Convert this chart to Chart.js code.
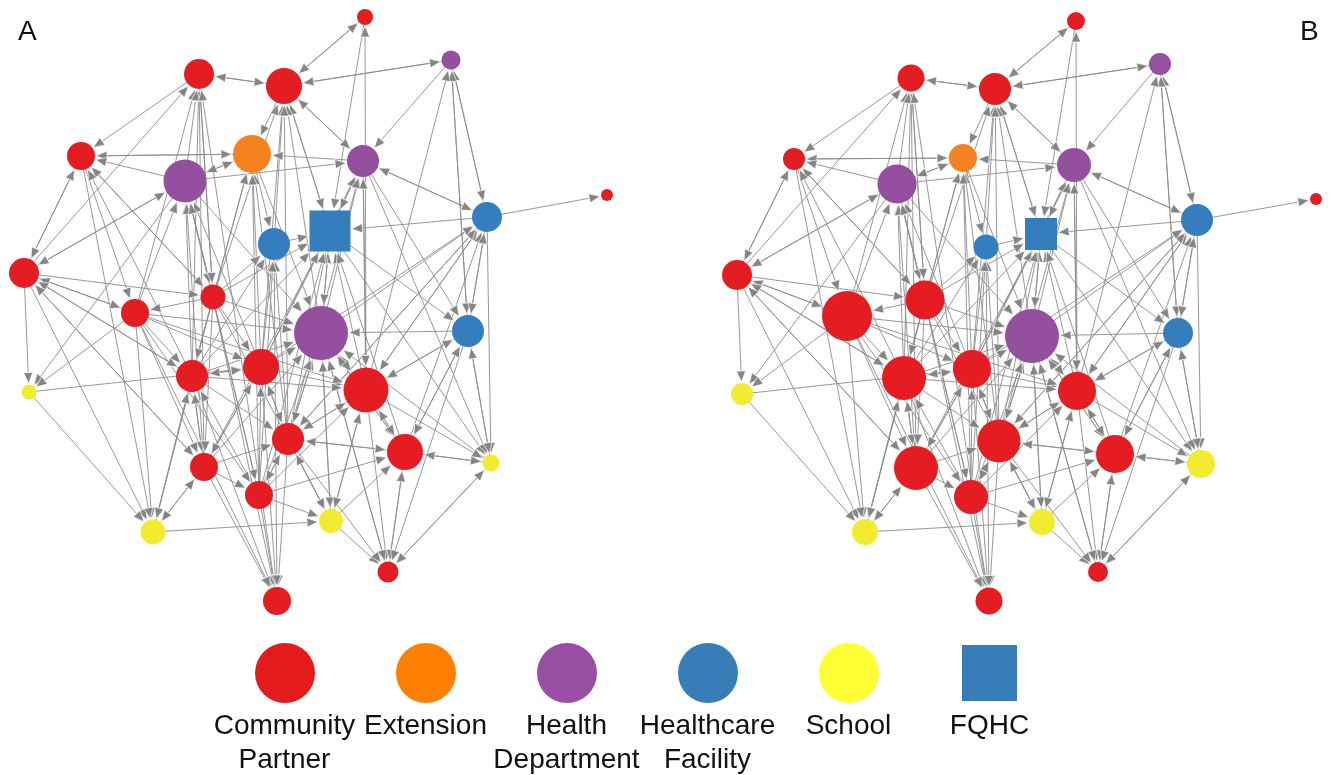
<!DOCTYPE html>
<html>
<head>
<meta charset="utf-8">
<script src="https://cdn.jsdelivr.net/npm/chart.js@4/dist/chart.umd.min.js"></script>
<style>
  html, body { margin: 0; padding: 0; background: #fff; }
  #wrap { position: relative; width: 1336px; height: 775px; overflow: hidden; font-family: "Liberation Sans", Arial, sans-serif; color: #111; }
  #net { position: absolute; left: 0; top: 0; }
  .panel-tag { position: absolute; top: 17px; font-size: 28px; line-height: 28px; }
  #legend { position: absolute; left: 214px; top: 643px; display: flex; }
  .item { width: 141px; display: flex; flex-direction: column; align-items: center; }
  .mark { width: 60px; height: 60px; border-radius: 50%; }
  .mark.sq { width: 55px; height: 56px; border-radius: 0; margin-top: 2px; margin-bottom: 2px; }
  .txt { margin-top: 5px; font-size: 28px; line-height: 34px; text-align: center; white-space: nowrap; }
</style>
</head>
<body>
<div id="wrap">
  <canvas id="net" width="1336" height="775"></canvas>
  <div class="panel-tag" style="left:18px">A</div>
  <div class="panel-tag" style="left:1300px">B</div>
  <div id="legend"></div>
</div>
<script>
// Organisation types
const categories = ['Community Partner', 'Extension', 'Health Department', 'Healthcare Facility', 'School', 'FQHC'];
const categoryLines = [['Community', 'Partner'], ['Extension'], ['Health', 'Department'], ['Healthcare', 'Facility'], ['School'], ['FQHC']];

// Type of each organisation (index into categories)
const nodeType = [0, 2, 0, 0, 1, 0, 2, 2, 0, 3, 5, 3, 0, 0, 0, 2, 3, 4, 0, 0, 0, 0, 0, 4, 0, 0, 4, 4, 0, 0];

// Network A: layout coordinates and node weight
const layoutAX = [365, 451, 199, 284, 252, 81, 363, 185, 607, 487, 330, 274, 24, 213, 135, 321, 468, 29, 192, 261, 366, 288, 405, 491, 204, 259, 153, 331, 388, 277];
const layoutAY = [17, 60, 74, 86, 154, 156, 161, 181, 195, 217, 231, 244, 273, 297, 313, 333, 331, 392, 376, 367, 390, 439, 452, 463, 467, 495, 532, 521, 572, 601];
const weightA = [8, 9.5, 15, 18, 19, 14, 16, 21.5, 6, 15, 20.5, 16, 15, 12.5, 14, 27, 16, 7.5, 16, 18, 22.5, 16, 18, 8.5, 14, 14, 12.5, 12, 10.5, 14];

// Network B: layout coordinates and node weight
const layoutBX = [1076, 1160, 911, 995, 963, 794, 1074, 897, 1316, 1197, 1041, 986, 737, 925, 847, 1032, 1178, 742, 904, 972, 1077, 999, 1115, 1201, 916, 971, 865, 1042, 1098, 989];
const layoutBY = [21, 64, 78, 89, 158, 159, 165, 184, 199, 220, 234, 247, 275, 300, 316, 336, 333, 394, 378, 369, 391, 441, 454, 464, 468, 497, 532, 522, 572, 601];
const weightB = [9, 11, 13.5, 16, 14, 11, 17, 19.5, 6, 16, 16, 12.5, 15, 19.5, 25, 27, 15, 11, 22, 19, 19, 21.5, 19, 14, 22, 17, 13, 13, 10, 13.5];

// Directed ties: [from, to]
const ties = [
  [3,0],[0,3],[20,0],[0,10],
  [3,1],[1,3],[1,6],[1,9],[9,1],[1,16],[16,1],[20,1],
  [2,3],[3,2],[2,5],[12,2],[13,2],[18,2],[24,2],[14,2],[7,2],[29,2],
  [3,4],[3,6],[6,3],[11,3],[19,3],[10,3],[15,3],[21,3],[13,3],[3,10],
  [12,5],[5,12],[5,4],[4,5],[7,5],[13,5],[18,5],[6,4],
  [12,7],[14,7],[7,12],[12,14],[12,13],[12,26],[14,12],[18,12],[24,12],
  [7,17],[17,19],[17,26],[14,17],
  [4,7],[7,4],[13,7],[18,7],[19,7],[24,7],[25,7],[7,13],[7,15],
  [4,11],[11,10],[13,4],[18,4],[19,4],[21,4],[25,4],[4,15],
  [6,9],[9,6],[9,8],[9,10],[15,9],[20,9],[21,9],[19,9],[22,9],
  [9,16],[16,9],[6,16],[10,16],[16,20],[20,16],[16,22],[23,16],[16,15],
  [15,6],[20,6],[19,6],[10,6],[21,6],[7,6],[6,10],
  [10,15],[15,10],[19,10],[20,10],[21,10],[22,10],[13,10],[18,10],[24,10],[25,10],
  [19,11],[21,11],[18,11],[13,11],[25,11],
  [19,15],[20,15],[21,15],[22,15],[13,15],[14,15],[18,15],[24,15],[25,15],[27,15],[28,15],[23,15],
  [15,20],[15,21],[15,22],[15,27],
  [21,20],[22,20],[19,20],[18,20],[27,20],[25,20],[14,20],
  [20,22],[20,27],[20,28],[20,21],
  [13,19],[14,19],[18,19],[21,19],[24,19],[25,19],[19,18],[19,21],[19,24],
  [14,18],[13,18],[24,18],[12,18],[25,18],[18,24],[18,26],[18,29],
  [24,21],[25,21],[22,21],[27,21],[18,21],[21,25],[21,22],[21,29],
  [23,22],[27,22],[28,22],[25,22],[22,23],
  [10,23],[6,23],[9,23],[23,28],[28,23],[20,23],
  [13,24],[14,24],[12,24],[24,25],[24,26],[24,29],
  [25,27],[14,25],[13,25],[25,29],
  [14,26],[13,26],[26,27],[26,24],[26,18],
  [27,28],[21,27],[13,27],
  [22,28],[21,28],[15,28],[16,28],
  [13,29],[14,29],[19,29],[11,29],
  [13,14],[5,14],[5,13],[2,13],
  [12,17],[5,26],[9,20],[16,23],[22,16],[6,20],[9,21]
];

const nodeColors = ['#e41d22', '#f58220', '#954f9f', '#357ebd', '#f2ec30', '#357ebd'];
const legendColors = ['#e41a1c', '#ff7f00', '#984ea3', '#377eb8', '#ffff33', '#377eb8'];
const EDGE = '#8c8c8c';

function buildNodes(xs, ys, ws) {
  return xs.map((x, i) => ({ x: x, y: ys[i], w: ws[i], t: nodeType[i] }));
}
const nodesA = buildNodes(layoutAX, layoutAY, weightA);
const nodesB = buildNodes(layoutBX, layoutBY, weightB);

function radiusOf(c) {
  const n = c.raw; if (!n) return 0;
  return n.t === 5 ? n.w * Math.SQRT2 : n.w;
}

function nodeDataset(label, nodes) {
  return {
    label: label,
    data: nodes,
    pointRadius: radiusOf,
    pointHoverRadius: radiusOf,
    pointStyle: c => (c.raw && c.raw.t === 5) ? 'rect' : 'circle',
    backgroundColor: c => c.raw ? nodeColors[c.raw.t] : '#000',
    borderWidth: 0,
    clip: false
  };
}

// Draws ties with arrowheads under the nodes, mapped through the chart scales
const tiePlugin = {
  id: 'ties',
  beforeDatasetsDraw(chart) {
    const { ctx, scales } = chart;
    const xs = scales.x, ys = scales.y;
    const sx = Math.abs(xs.getPixelForValue(1) - xs.getPixelForValue(0));
    const arrowLen = 11, arrowHalf = 4.6;
    const heads = [];
    ctx.save();
    ctx.strokeStyle = EDGE;
    ctx.lineWidth = 0.9;
    ctx.beginPath();
    chart.data.datasets.forEach(ds => {
      const nodes = ds.data;
      ties.forEach(([s, t]) => {
        const a = nodes[s], b = nodes[t];
        const x1 = xs.getPixelForValue(a.x), y1 = ys.getPixelForValue(a.y);
        const x2 = xs.getPixelForValue(b.x), y2 = ys.getPixelForValue(b.y);
        const dx = x2 - x1, dy = y2 - y1;
        const len = Math.hypot(dx, dy);
        const ux = dx / len, uy = dy / len;
        let reach = b.t === 5 ? b.w / Math.max(Math.abs(ux), Math.abs(uy)) : b.w;
        reach = reach * sx + 1;
        const tx = x2 - ux * reach, ty = y2 - uy * reach;
        const bx = tx - ux * arrowLen, by = ty - uy * arrowLen;
        ctx.moveTo(x1, y1);
        ctx.lineTo(bx, by);
        heads.push([tx, ty, bx, by, ux, uy]);
      });
    });
    ctx.stroke();
    ctx.fillStyle = '#858585';
    ctx.strokeStyle = '#ffffff';
    ctx.lineWidth = 0.7;
    heads.forEach(([tx, ty, bx, by, ux, uy]) => {
      ctx.beginPath();
      ctx.moveTo(tx, ty);
      ctx.lineTo(bx - uy * arrowHalf, by + ux * arrowHalf);
      ctx.lineTo(bx + uy * arrowHalf, by - ux * arrowHalf);
      ctx.closePath();
      ctx.fill();
      ctx.stroke();
    });
    ctx.restore();
  }
};

new Chart(document.getElementById('net'), {
  type: 'scatter',
  data: { datasets: [nodeDataset('A', nodesA), nodeDataset('B', nodesB)] },
  options: {
    responsive: false,
    animation: false,
    events: [],
    layout: { padding: 0, autoPadding: false },
    plugins: { legend: { display: false }, tooltip: { enabled: false } },
    scales: {
      x: { type: 'linear', min: 0, max: 1336, display: false },
      y: { type: 'linear', min: 0, max: 775, reverse: true, display: false }
    }
  },
  plugins: [tiePlugin]
});

// Type key below the two networks
const legend = document.getElementById('legend');
categories.forEach((name, i) => {
  const item = document.createElement('div');
  item.className = 'item';
  const mark = document.createElement('div');
  mark.className = 'mark' + (name === 'FQHC' ? ' sq' : '');
  mark.style.background = legendColors[i];
  const txt = document.createElement('div');
  txt.className = 'txt';
  txt.innerHTML = categoryLines[i].join('<br>');
  item.appendChild(mark);
  item.appendChild(txt);
  legend.appendChild(item);
});
</script>
</body>
</html>
